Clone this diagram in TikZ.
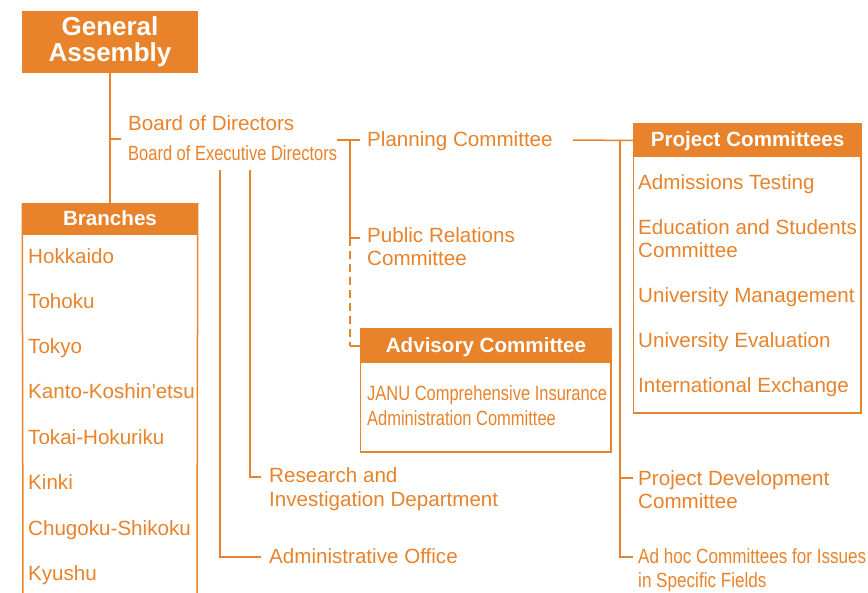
\documentclass[tikz,border=0pt]{standalone}
\usepackage{fontspec}
\setmainfont{Liberation Sans}
\newfontfamily\narrowfont[FakeStretch=0.8]{Liberation Sans}
\newfontfamily\narrowfontb[FakeStretch=0.83]{Liberation Sans}
\definecolor{org}{RGB}{232,131,43}
\begin{document}
\begin{tikzpicture}[x=1pt,y=-1pt,
  line/.style={draw=org,line width=1.5pt},
  dashline/.style={draw=org,line width=1.5pt,dash pattern=on 8pt off 5pt},
  lbl/.style={anchor=base west,inner sep=0pt,text=org,align=left,
    font=\fontsize{20.6}{23}\selectfont},
  nlbl/.style={lbl,font=\narrowfont\fontsize{20.6}{25}\selectfont},
  nlblb/.style={lbl,font=\narrowfontb\fontsize{20.6}{24}\selectfont},
  hdr/.style={fill=org,draw=org,line width=1.5pt,text=white,inner sep=0pt,
    font=\bfseries\fontsize{20.6}{23}\selectfont,text height=13.5pt,text depth=0.5pt}
]
\useasboundingbox (0,0) rectangle (868,593);
\fill[white] (0,0) rectangle (868,593);

% General Assembly
\node[hdr,minimum width=174pt,minimum height=60pt,align=center,
  font=\bfseries\fontsize{26}{26}\selectfont,text height=,text depth=] (ga) at (110,42) {General\\Assembly};

% Branches
\node[hdr,minimum width=174pt,minimum height=30pt] (br) at (110,219) {Branches};
\coordinate (brbl) at (23,594);
\coordinate (brbr) at (197,594);
\draw[line] (br.north west) -- (brbl);
\draw[line] (br.north east) -- (brbr);
\foreach \t/\y [count=\i] in {Hokkaido/263.5,Tohoku/308.5,Tokyo/353.5,Kanto-Koshin\textquotesingle etsu/398.5,Tokai-Hokuriku/444.5,Kinki/489.5,Chugoku-Shikoku/535.5,Kyushu/580.5}
  \node[lbl] (b\i) at (28,\y) {\t};

% Board
\node[lbl] (bod) at (128,131) {Board of Directors};
\node[nlbl] (boed) at (128,161) {Board of Executive Directors};

% Planning etc.
\node[lbl] (pl) at (367,147) {Planning Committee};
\node[lbl] (pr) at (367,266) {Public Relations\\Committee};
\node[hdr,minimum width=250pt,minimum height=32pt] (ad) at (486,346) {Advisory Committee};
\coordinate (adbr) at (611,452);
\draw[line] (ad.north west) rectangle (adbr);
\node[nlbl] (janu) at (367,426) {JANU Comprehensive Insurance\\Administration Committee};

% Project committees
\node[hdr,minimum width=227pt,minimum height=31pt] (pc) at (747.5,140.5) {Project Committees};
\coordinate (pcbr) at (861,413);
\draw[line] (pc.north west) rectangle (pcbr);
\node[lbl] (p1) at (638,190) {Admissions Testing};
\node[lbl] (p2) at (638,258) {Education and Students\\Committee};
\node[lbl] (p3) at (638,303) {University Management};
\node[lbl] (p4) at (638,348) {University Evaluation};
\node[lbl] (p5) at (638,393) {International Exchange};

\node[lbl] (pd) at (638,508) {Project Development\\Committee};
\node[nlblb] (ah) at (638,587) {Ad hoc Committees for Issues\\in Specific Fields};

\node[lbl,font=\fontsize{20.6}{24}\selectfont] (rd) at (269,507) {Research and\\Investigation Department};
\node[lbl] (ao) at (269,563) {Administrative Office};

% connectors
\draw[line] (ga.south) -- (br.north);
\coordinate (gaj) at (110,139);
\coordinate (bdw) at (121,139);
\draw[line] (gaj) -- (bdw);

\coordinate (bde) at (337,140);
\coordinate (j1) at (350,140);
\coordinate (plw) at (360,140);
\coordinate (j2) at (350,238);
\coordinate (prw) at (360,238);
\coordinate (j3) at (350,346);
\draw[line] (bde) -- (plw);
\draw[line] (j1) -- (j2) -- (prw);
\draw[dashline] (j2) -- (j3);
\draw[line] (j3) -- (ad.west);

\coordinate (ple) at (573,140);
\draw[line] (ple) -- (pc.west);
\coordinate (k1) at (620,140);
\coordinate (k2) at (620,478);
\coordinate (k3) at (620,557);
\coordinate (pdw) at (633,478);
\coordinate (ahw) at (633,557);
\draw[line] (k1) -- (k3) -- (ahw);
\draw[line] (k2) -- (pdw);

\coordinate (e1) at (220,170);
\coordinate (e2) at (250,170);
\coordinate (aow) at (261,557);
\coordinate (rdw) at (261,477);
\draw[line] (e1) |- (aow);
\draw[line] (e2) |- (rdw);
\end{tikzpicture}
\end{document}
